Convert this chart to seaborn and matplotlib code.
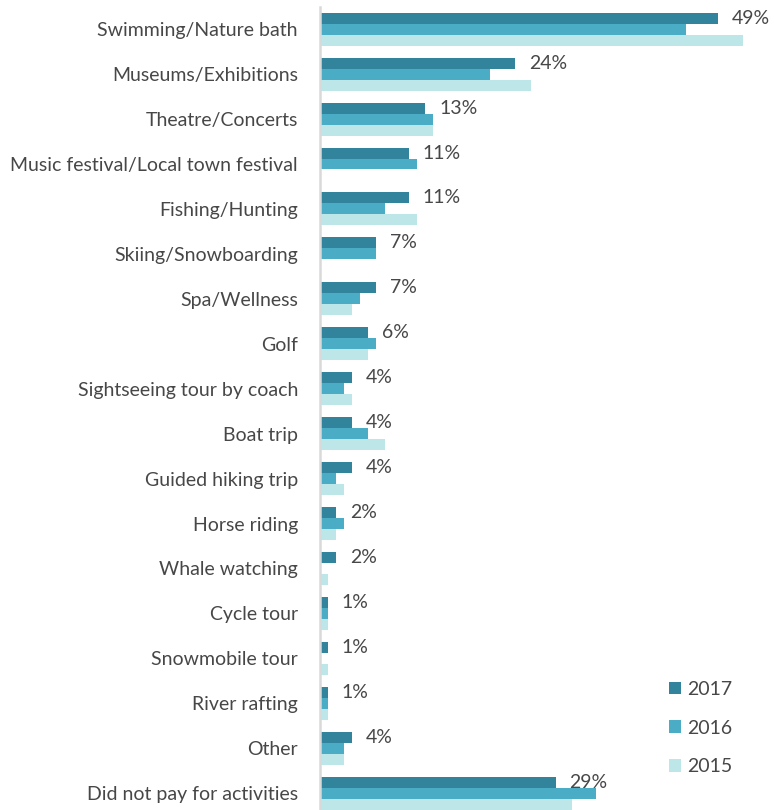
import matplotlib
matplotlib.use("Agg")
import matplotlib.pyplot as plt
import pandas as pd
import seaborn as sns

# Activities paid for during the trip, share of respondents (%)
activities = [
    "Swimming/Nature bath",
    "Museums/Exhibitions",
    "Theatre/Concerts",
    "Music festival/Local town festival",
    "Fishing/Hunting",
    "Skiing/Snowboarding",
    "Spa/Wellness",
    "Golf",
    "Sightseeing tour by coach",
    "Boat trip",
    "Guided hiking trip",
    "Horse riding",
    "Whale watching",
    "Cycle tour",
    "Snowmobile tour",
    "River rafting",
    "Other",
    "Did not pay for activities",
]
share_2017 = [49, 24, 13, 11, 11, 7, 7, 6, 4, 4, 4, 2, 2, 1, 1, 1, 4, 29]
share_2016 = [45, 21, 14, 12, 8, 7, 5, 7, 3, 6, 2, 3, 0, 1, 0, 1, 3, 34]
share_2015 = [52, 26, 14, 0, 12, 0, 4, 6, 4, 8, 3, 2, 1, 1, 1, 1, 3, 31]
years = ["2017", "2016", "2015"]
year_colors = ["#31849B", "#4BACC6", "#BDE6E8"]

long = pd.DataFrame({
    "activity": activities * 3,
    "share": share_2017 + share_2016 + share_2015,
    "year": [y for y in years for _ in activities],
})

sns.set_theme(style="white")
plt.rcParams["font.family"] = ["Lato", "DejaVu Sans"]
text_color = "#474747"
fs = 14

W, H = 774, 810
fig = plt.figure(figsize=(W / 100, H / 100), dpi=100)
x0 = 319.5
px_per_pct = 8.14
ax = fig.add_axes([x0 / W, 0.0, 1 - x0 / W, 1 - 6.7 / H])

sns.barplot(
    data=long, y="activity", x="share", hue="year",
    hue_order=years, palette=year_colors, orient="h",
    width=0.734, errorbar=None, linewidth=0, saturation=1, ax=ax,
)

ax.set_xlim(0, (W - x0) / px_per_pct)
ax.set_ylim(17.374, -0.5)
ax.set_xlabel("")
ax.set_ylabel("")
ax.set_xticks([])

for side in ["top", "right", "bottom"]:
    ax.spines[side].set_visible(False)
ax.spines["left"].set_color("#D9D9D9")
ax.spines["left"].set_linewidth(1.8)

ax.tick_params(axis="y", length=0, pad=15.5, labelsize=fs, labelcolor=text_color)

# Value labels on the most recent year
ax.bar_label(
    ax.containers[0], labels=[f"{v}%" for v in share_2017],
    padding=10, fontsize=fs, color=text_color,
)

handles, labels = ax.get_legend_handles_labels()
ax.legend(
    handles, labels, loc="center left",
    bbox_to_anchor=(669 / W, 1 - 728 / H), bbox_transform=fig.transFigure,
    frameon=False, fontsize=fs, labelcolor=text_color,
    handlelength=0.62, handleheight=0.62, handletextpad=0.3,
    labelspacing=1.11, borderpad=0, borderaxespad=0,
)

fig.savefig("out.png", dpi=100)
